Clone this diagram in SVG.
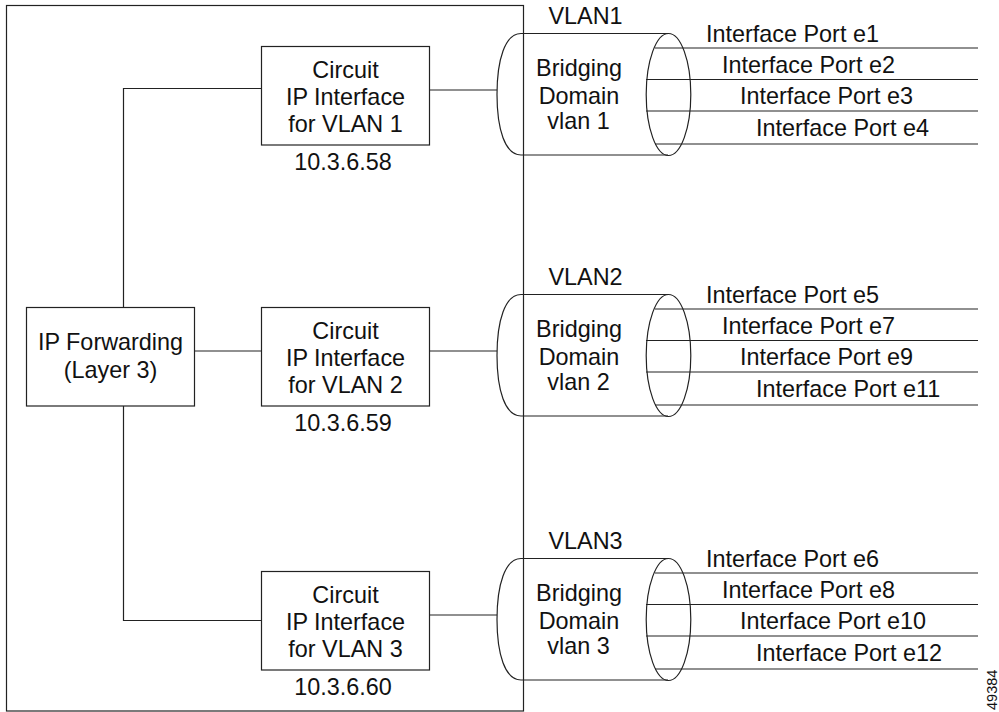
<svg xmlns="http://www.w3.org/2000/svg" width="999" height="712" viewBox="0 0 999 712">
<style>
.s{fill:none;stroke:#222;stroke-width:1.2}
.b{fill:none;stroke:#222;stroke-width:1.2}
text{font-family:"Liberation Sans",Arial,sans-serif;font-size:23.400px;fill:#111}
.m{text-anchor:middle}
</style>
<defs>
<g id="cyl">
<path class="s" d="M521 33.500H668M521 155H668"/>
<path class="s" d="M521 33.500C505 33.500 497 60 497 94.500C497 129 505 155 521 155"/>
<ellipse class="s" cx="668.500" cy="94.500" rx="22.300" ry="61"/>
<path class="s" d="M655 48H978M646 79.500H978M646 111H978M655 144H978"/>
</g>
</defs>
<rect id="frame" class="b" x="6.500" y="5.500" width="517" height="705.500"/>
<g id="connectors">
<path class="s" d="M123.500 307.500V88.500H261"/>
<path class="s" d="M123.500 406V620.500H261"/>
<path class="s" d="M194.500 351H261"/>
<path class="s" d="M429 90H497M429 351H497M429 615H497"/>
</g>
<g id="ip-forwarding">
<rect class="b" x="26.500" y="307.500" width="168" height="98.500"/>
<text class="m" x="110.500" y="350">IP Forwarding</text>
<text class="m" x="110.500" y="377.500">(Layer 3)</text>
</g>
<g id="circuit-1">
<rect class="b" x="261.500" y="46.500" width="168" height="98.500"/>
<text class="m" x="345.500" y="78">Circuit</text>
<text class="m" x="345.500" y="105">IP Interface</text>
<text class="m" x="345.500" y="132">for VLAN 1</text>
<text class="m" x="343" y="170">10.3.6.58</text>
</g>
<g id="circuit-2">
<rect class="b" x="261.500" y="307.500" width="168" height="98.500"/>
<text class="m" x="345.500" y="339">Circuit</text>
<text class="m" x="345.500" y="366">IP Interface</text>
<text class="m" x="345.500" y="393">for VLAN 2</text>
<text class="m" x="343" y="431">10.3.6.59</text>
</g>
<g id="circuit-3">
<rect class="b" x="261.500" y="571.500" width="168" height="98.500"/>
<text class="m" x="345.500" y="603">Circuit</text>
<text class="m" x="345.500" y="630">IP Interface</text>
<text class="m" x="345.500" y="657">for VLAN 3</text>
<text class="m" x="343" y="695">10.3.6.60</text>
</g>
<g id="vlan-1">
<use href="#cyl"/>
<text class="m" x="585.500" y="23.500">VLAN1</text>
<text class="m" x="579" y="76">Bridging</text>
<text class="m" x="579" y="104">Domain</text>
<text class="m" x="578.500" y="129">vlan 1</text>
<text x="706" y="42">Interface Port e1</text>
<text x="722" y="73">Interface Port e2</text>
<text x="740" y="104">Interface Port e3</text>
<text x="756" y="136">Interface Port e4</text>
</g>
<g id="vlan-2">
<use href="#cyl" y="261"/>
<text class="m" x="585.500" y="284.500">VLAN2</text>
<text class="m" x="579" y="337">Bridging</text>
<text class="m" x="579" y="365">Domain</text>
<text class="m" x="578.500" y="390">vlan 2</text>
<text x="706" y="303">Interface Port e5</text>
<text x="722" y="334">Interface Port e7</text>
<text x="740" y="365">Interface Port e9</text>
<text x="756" y="397">Interface Port e11</text>
</g>
<g id="vlan-3">
<use href="#cyl" y="525"/>
<text class="m" x="585.500" y="548.500">VLAN3</text>
<text class="m" x="579" y="601">Bridging</text>
<text class="m" x="579" y="629">Domain</text>
<text class="m" x="578.500" y="654">vlan 3</text>
<text x="706" y="567">Interface Port e6</text>
<text x="722" y="598">Interface Port e8</text>
<text x="740" y="629">Interface Port e10</text>
<text x="756" y="661">Interface Port e12</text>
</g>
<text transform="translate(997 710) rotate(-90)" style="font-size:14.500px">49384</text>
</svg>
